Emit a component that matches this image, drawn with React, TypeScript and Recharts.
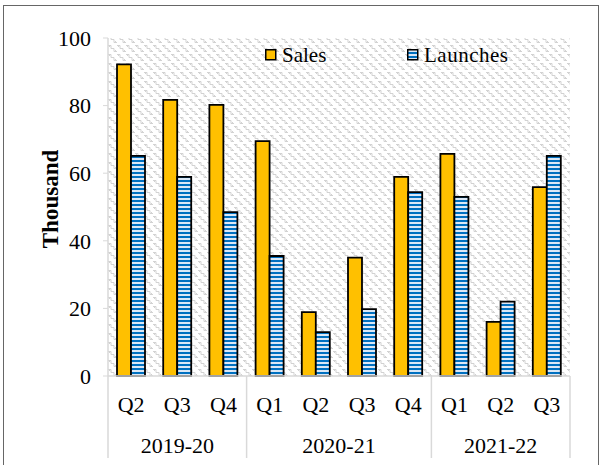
import React from 'react';
import { BarChart, Bar, XAxis, YAxis, CartesianGrid } from 'recharts';

const quarters = ['Q2', 'Q3', 'Q4', 'Q1', 'Q2', 'Q3', 'Q4', 'Q1', 'Q2', 'Q3'];
const years = ['2019-20', '2019-20', '2019-20', '2020-21', '2020-21', '2020-21', '2020-21', '2021-22', '2021-22', '2021-22'];
const sales = [92.2, 81.7, 80.2, 69.5, 18.9, 35, 58.9, 65.7, 16, 55.9];
const launches = [65.1, 58.9, 48.5, 35.5, 13, 19.8, 54.4, 53, 22, 65.1];
const yTicks = [0, 20, 40, 60, 80, 100];

const data = quarters.map((q, i) => ({
  q,
  year: years[i],
  sales: sales[i],
  launches: launches[i],
}));

const W = 602;
const H = 465;
const margin = { top: 38, right: 32, left: 48, bottom: 4 };
const yAxisWidth = 60;
const band = (W - margin.left - margin.right - yAxisWidth) / quarters.length;
const font = '"Liberation Serif", "Times New Roman", serif';
const axisGray = '#d9d9d9';

// second-level axis: year labels centred under their quarters, plus group separators
const YearTick = (props: any) => {
  const { x, y, payload } = props;
  const i = payload.index;
  const yr = years[i];
  const isStart = i === 0 || years[i - 1] !== yr;
  const isLast = i === years.length - 1;
  let end = i;
  while (end + 1 < years.length && years[end + 1] === yr) end++;
  const top = y - 45;
  const bottom = y + 37;
  return (
    <g>
      {isStart && <line x1={x - band / 2} x2={x - band / 2} y1={top} y2={bottom} stroke={axisGray} strokeWidth={1.5} />}
      {isLast && <line x1={x + band / 2} x2={x + band / 2} y1={top} y2={bottom} stroke={axisGray} strokeWidth={1.5} />}
      {isStart && (
        <text x={x + ((end - i) / 2) * band} y={y + 24} dy="0.35em" textAnchor="middle" fontSize={22} fontFamily={font} fill="#000">
          {yr}
        </text>
      )}
    </g>
  );
};

const YLabel = (props: any) => {
  const { viewBox } = props;
  const cx = viewBox.x + 2;
  const cy = viewBox.y + viewBox.height / 2 - 8;
  return (
    <text x={cx} y={cy} textAnchor="middle" dominantBaseline="central" transform={`rotate(-90, ${cx}, ${cy})`}
      fontSize={23} fontWeight="bold" fontFamily={font} fill="#000">
      Thousand
    </text>
  );
};

const LegendBox = () => (
  <svg style={{ position: 'absolute', left: 262, top: 40 }} width={260} height={30}>
    <rect x={3.75} y={9.75} width={10} height={10} fill="#FFC000" stroke="#000" strokeWidth={1.5} />
    <text x={20} y={15} dy="0.35em" fontSize={21} fontFamily={font} fill="#000">Sales</text>
    <rect x={145.75} y={9.75} width={10} height={10} fill="url(#launchStripes)" stroke="#000" strokeWidth={1.5} />
    <text x={162} y={15} dy="0.35em" fontSize={21} fontFamily={font} fill="#000" letterSpacing={0.5}>Launches</text>
  </svg>
);

export default function App() {
  return (
    <div style={{ position: 'fixed', left: 0, top: 0, width: W, height: H, background: '#fff', overflow: 'hidden' }}>
      <svg width={0} height={0} style={{ position: 'absolute' }}>
        <defs>
          <pattern id="bgHatch" width={9} height={9} patternUnits="userSpaceOnUse">
            <rect width={9} height={9} fill="#fff" />
            <path d="M0 0.5 h3 v3 h3 v3 h3 M1.5 0 v2 M7.5 5 v2" fill="none" stroke="#d2d2d2" strokeWidth={1} />
          </pattern>
          <pattern id="launchStripes" width={4} height={4} patternUnits="userSpaceOnUse">
            <rect width={4} height={4} fill="#dbe8f6" />
            <rect width={4} height={2} fill="#0070C0" />
          </pattern>
        </defs>
      </svg>
      <div style={{ position: 'absolute', left: 3, top: 5, width: 594, height: 470, border: '1.5px solid #666' }} />
      <BarChart width={W} height={H} data={data} margin={margin} barSize={14} barGap={0}>
        <CartesianGrid horizontal={false} vertical={false} fill="url(#bgHatch)" />
        <XAxis
          xAxisId="q"
          dataKey="q"
          height={45}
          axisLine={{ stroke: axisGray, strokeWidth: 1.5 }}
          tickLine={false}
          tickSize={0}
          tickMargin={20}
          interval={0}
          tick={{ fontSize: 22, fontFamily: font, fill: '#000' }}
        />
        <XAxis
          xAxisId="year"
          dataKey="year"
          height={40}
          axisLine={false}
          tickLine={false}
          tickSize={0}
          tickMargin={0}
          interval={0}
          tick={<YearTick />}
        />
        <YAxis
          width={yAxisWidth}
          domain={[0, 100]}
          ticks={yTicks}
          axisLine={{ stroke: axisGray, strokeWidth: 1.5 }}
          tickLine={{ stroke: axisGray }}
          tickSize={5}
          tickMargin={12}
          tick={{ fontSize: 22, fontFamily: font, fill: '#000' }}
          label={<YLabel />}
        />
        <Bar xAxisId="q" dataKey="sales" name="Sales" fill="#FFC000" stroke="#000" strokeWidth={1.8} isAnimationActive={false} />
        <Bar xAxisId="q" dataKey="launches" name="Launches" fill="url(#launchStripes)" stroke="#000" strokeWidth={1.8} isAnimationActive={false} />
      </BarChart>
      <LegendBox />
    </div>
  );
}
